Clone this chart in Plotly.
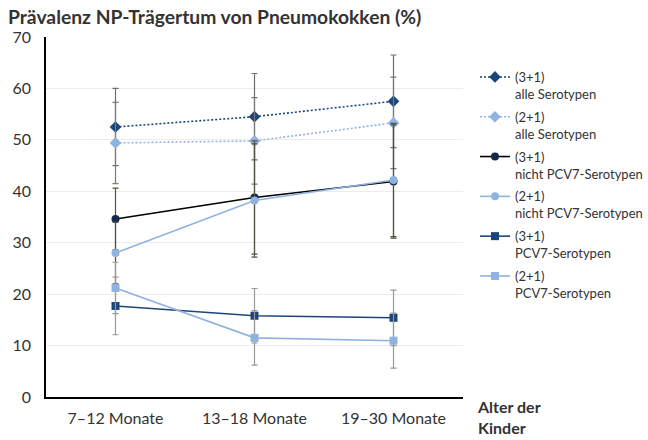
import plotly.graph_objects as go

categories = ["7\u201312 Monate", "13\u201318 Monate", "19\u201330 Monate"]

alle_31 = [52.5, 54.5, 57.5]
alle_31_err = [7.5, 8.4, 9.0]
alle_21 = [49.4, 49.8, 53.3]
alle_21_err = [7.9, 8.4, 8.9]
nicht_31 = [34.6, 38.8, 41.9]
nicht_31_err = [6.0, 11.0, 11.0]
nicht_21 = [28.0, 38.2, 42.2]
nicht_21_err = [6.0, 11.0, 11.0]
pcv_31 = [17.7, 15.8, 15.4]
pcv_31_err = [5.6, 5.3, 5.4]
pcv_21 = [21.2, 11.5, 10.95]
pcv_21_err = [5.0, 5.3, 5.35]

y_ticks = [0, 10, 20, 30, 40, 50, 60, 70]

DARK = "#1c4679"
LIGHT = "#8fb3e0"
FONT = "Lato"

series = [
    ("(3+1)<br>alle Serotypen", alle_31, alle_31_err, DARK, DARK, "2px,2px", "diamond", "#6e6e6e"),
    ("(2+1)<br>alle Serotypen", alle_21, alle_21_err, LIGHT, LIGHT, "2px,2px", "diamond", "#7a7a7a"),
    ("(3+1)<br>nicht PCV7-Serotypen", nicht_31, nicht_31_err, "#000000", "#10294a", "solid", "circle", "#55533c"),
    ("(2+1)<br>nicht PCV7-Serotypen", nicht_21, nicht_21_err, LIGHT, LIGHT, "solid", "circle", "#55533c"),
    ("(3+1)<br>PCV7-Serotypen", pcv_31, pcv_31_err, DARK, DARK, "solid", "square", "#999999"),
    ("(2+1)<br>PCV7-Serotypen", pcv_21, pcv_21_err, LIGHT, LIGHT, "solid", "square", "#999999"),
]

fig = go.Figure()
for i, (name, vals, err, lc, mc, dash, sym, ec) in enumerate(series):
    fig.add_trace(go.Scatter(
        x=categories, y=vals, name=name, mode="lines+markers", legendgroup=f"g{i}",
        line=dict(color=lc, width=1.6, dash=dash),
        marker=dict(color=mc, symbol=sym, size=8 if sym != "diamond" else 9),
        error_y=dict(type="data", array=err, visible=True, color=ec, thickness=1.2, width=3),
    ))

fig.update_layout(
    width=648, height=440,
    margin=dict(l=39, r=142, t=37, b=43),
    paper_bgcolor="white", plot_bgcolor="white",
    font=dict(family=FONT, color="#333333"),
    title=dict(text="<b>Prävalenz NP-Trägertum von Pneumokokken (%)</b>",
               x=8 / 648, xanchor="left", xref="container",
               y=1 - 17 / 440, yanchor="middle", yref="container",
               font=dict(family=FONT, size=19.3, color="#333333")),
    showlegend=True,
    legend=dict(x=1.0, xanchor="right", xref="container", y=(397 - 62) / 360, yanchor="top",
                font=dict(family=FONT, size=13, color="#333333"),
                itemwidth=30, valign="top", tracegroupgap=3, borderwidth=0,
                bgcolor="rgba(0,0,0,0)"),
    annotations=[dict(text="<b>Alter der<br>Kinder</b>", xref="paper", yref="paper",
                      x=1.0, y=0, xanchor="left", yanchor="top", xshift=12, yshift=2,
                      align="left", showarrow=False,
                      font=dict(family=FONT, size=16, color="#333333"))],
)
fig.update_xaxes(type="category", range=[-0.5, 2.5], showline=True, linecolor="#000000",
                 linewidth=1.5, showgrid=False, ticks="", ticklabelstandoff=6,
                 tickfont=dict(size=16, color="#333333"))
fig.update_yaxes(range=[0, 70], tickvals=y_ticks, showline=True, linecolor="#000000",
                 linewidth=1.5, showgrid=True, gridcolor="#ececec", gridwidth=1, ticks="",
                 zeroline=False, tickfont=dict(size=16, color="#333333"), ticklabelstandoff=10)

fig.write_html("out.html", config={"displayModeBar": False},
               post_script="document.body.style.margin='0';")
